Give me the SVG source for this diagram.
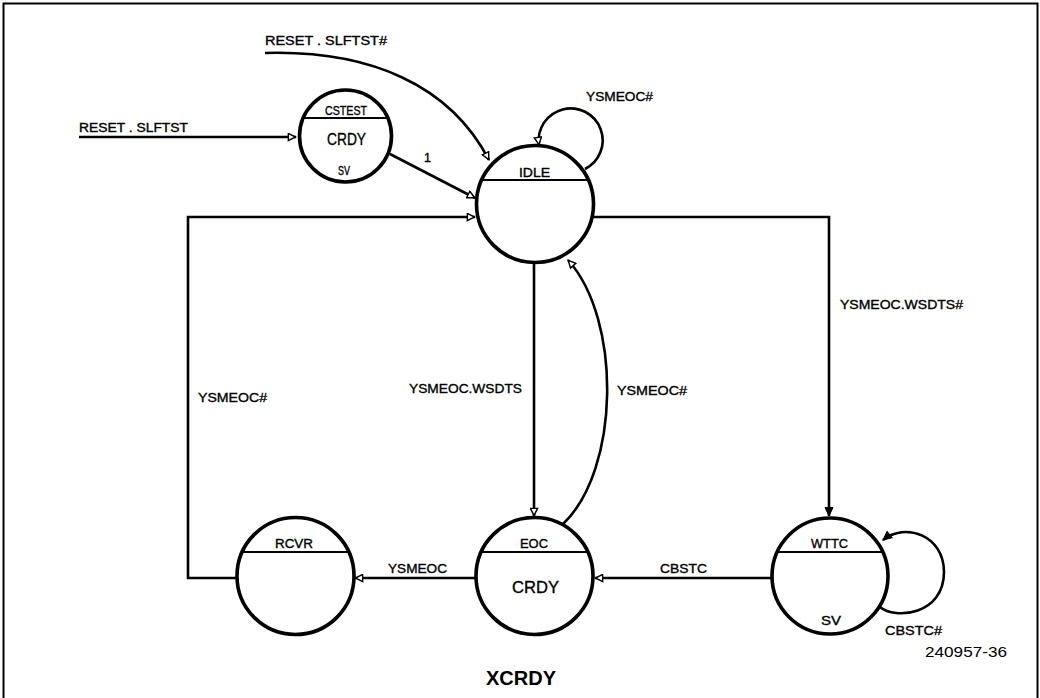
<svg xmlns="http://www.w3.org/2000/svg" width="1040" height="698" viewBox="0 0 1040 698">
<style>
.st{fill:#fff;stroke:#000;stroke-width:3.6}
.dv{stroke:#000;stroke-width:2}
.cn{fill:none;stroke:#000;stroke-width:2.6}
.t{font-family:"Liberation Sans",Arial,sans-serif;font-size:12.5px;fill:#000;stroke:#000;stroke-width:0.35}
.tb{font-family:"Liberation Sans",Arial,sans-serif;font-size:17px;fill:#000;stroke:#000;stroke-width:0.35}
</style>
<defs>
<marker id="ao" viewBox="0 0 10 10" refX="9.5" refY="5" markerWidth="10" markerHeight="9" markerUnits="userSpaceOnUse" orient="auto">
<path d="M1,1 L9,5 L1,9 Z" fill="#fff" stroke="#000" stroke-width="1.6"/>
</marker>
<marker id="af" viewBox="0 0 10 10" refX="9.5" refY="5" markerWidth="11" markerHeight="10" markerUnits="userSpaceOnUse" orient="auto">
<path d="M1,1 L9.5,5 L1,9 Z" fill="#000" stroke="#000" stroke-width="1"/>
</marker>
</defs>
<rect width="1040" height="698" fill="#fff"/>
<path d="M3.5,698 V3.5 H1037.5 V698" fill="none" stroke="#000" stroke-width="2"/>

<g id="connectors">
<path class="cn" d="M79,137 H296" marker-end="url(#ao)"/>
<path class="cn" d="M265,53 C370,50 450,85 489,160" marker-end="url(#ao)"/>
<path class="cn" d="M390,154 L475,198" marker-end="url(#ao)"/>
<path class="cn" d="M585,169 A32,32 0 1 0 539,145" marker-end="url(#ao)"/>
<path class="cn" d="M237,578 H188 V217 H475" marker-end="url(#ao)"/>
<path class="cn" d="M593,217 H829 V516" marker-end="url(#af)"/>
<path class="cn" d="M534,263 V516" marker-end="url(#ao)"/>
<path class="cn" d="M563,524 C620,470 622,320 568,260" marker-end="url(#ao)"/>
<path class="cn" d="M772,578 H595" marker-end="url(#ao)"/>
<path class="cn" d="M476,578 H355" marker-end="url(#ao)"/>
<path class="cn" d="M880,607 C895,620 944,615 944,572 C944,535 905,522 883,540" marker-end="url(#af)"/>
<text class="t" x="265" y="45" textLength="122" lengthAdjust="spacingAndGlyphs">RESET . SLFTST#</text>
<text class="t" x="79" y="132" textLength="109" lengthAdjust="spacingAndGlyphs">RESET . SLFTST</text>
<text class="t" x="424" y="162">1</text>
<text class="t" x="586" y="101" textLength="67" lengthAdjust="spacingAndGlyphs">YSMEOC#</text>
<text class="t" x="198" y="402" textLength="69" lengthAdjust="spacingAndGlyphs">YSMEOC#</text>
<text class="t" x="409" y="393" textLength="113" lengthAdjust="spacingAndGlyphs">YSMEOC.WSDTS</text>
<text class="t" x="617" y="395" textLength="70" lengthAdjust="spacingAndGlyphs">YSMEOC#</text>
<text class="t" x="840" y="309" textLength="123" lengthAdjust="spacingAndGlyphs">YSMEOC.WSDTS#</text>
<text class="t" x="388" y="573" textLength="59" lengthAdjust="spacingAndGlyphs">YSMEOC</text>
<text class="t" x="660" y="573" textLength="47" lengthAdjust="spacingAndGlyphs">CBSTC</text>
<text class="t" x="885" y="635" textLength="57" lengthAdjust="spacingAndGlyphs">CBSTC#</text>
</g>

<g id="node-cstest">
<circle class="st" cx="345.5" cy="136" r="46"/>
<line class="dv" x1="303" y1="118" x2="388" y2="118"/>
<text class="t" x="325" y="115" textLength="42" lengthAdjust="spacingAndGlyphs">CSTEST</text>
<text class="tb" x="327" y="145" textLength="39" lengthAdjust="spacingAndGlyphs">CRDY</text>
<text class="t" x="338" y="175" textLength="12" lengthAdjust="spacingAndGlyphs">SV</text>
</g>

<g id="node-idle">
<circle class="st" cx="535" cy="204" r="58.5"/>
<line class="dv" x1="482" y1="180" x2="588" y2="180"/>
<text class="t" x="519" y="177" textLength="31" lengthAdjust="spacingAndGlyphs">IDLE</text>
</g>

<g id="node-rcvr">
<circle class="st" cx="295.5" cy="576" r="58.5"/>
<line class="dv" x1="242" y1="552" x2="349" y2="552"/>
<text class="t" x="275" y="548" textLength="38" lengthAdjust="spacingAndGlyphs">RCVR</text>
</g>

<g id="node-eoc">
<circle class="st" cx="534.5" cy="576" r="58.5"/>
<line class="dv" x1="481" y1="552" x2="588" y2="552"/>
<text class="t" x="520" y="548" textLength="28" lengthAdjust="spacingAndGlyphs">EOC</text>
<text class="tb" x="512" y="593" textLength="47" lengthAdjust="spacingAndGlyphs">CRDY</text>
</g>

<g id="node-wttc">
<circle class="st" cx="830" cy="576" r="58"/>
<line class="dv" x1="777" y1="552" x2="883" y2="552"/>
<text class="t" x="811" y="548" textLength="37" lengthAdjust="spacingAndGlyphs">WTTC</text>
<text class="t" x="821" y="625" textLength="20" lengthAdjust="spacingAndGlyphs">SV</text>
</g>

<text x="925" y="657" font-family="Liberation Sans, Arial, sans-serif" font-size="14.5" textLength="82" lengthAdjust="spacingAndGlyphs">240957-36</text>
<text x="521" y="685" text-anchor="middle" font-family="Liberation Sans, Arial, sans-serif" font-size="20" font-weight="bold">XCRDY</text>
</svg>
